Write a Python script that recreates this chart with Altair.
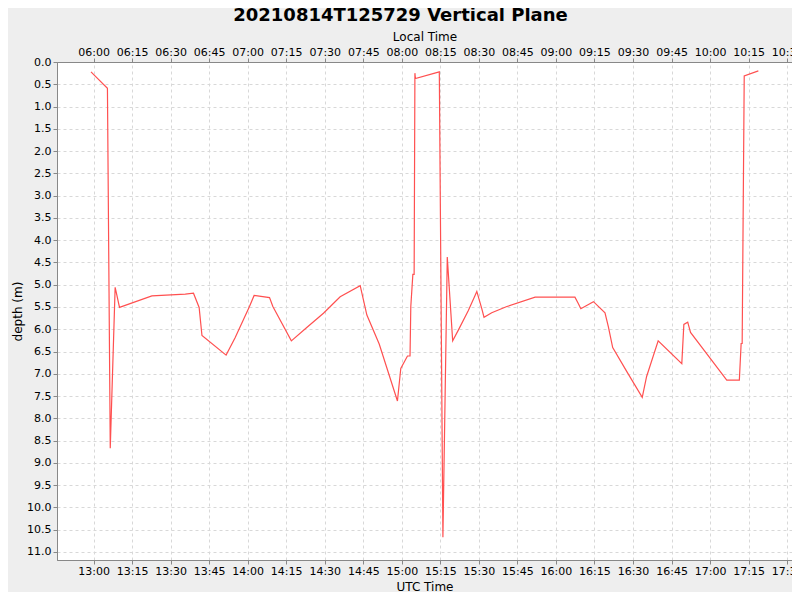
import altair as alt
import pandas as pd

TITLE = "20210814T125729 Vertical Plane"

# UTC timestamps (HH:MM:SS) and depths (m)
utc_times = [
    "12:59:00", "13:05:24", "13:06:30", "13:08:24", "13:08:54", "13:10:06",
    "13:22:42", "13:35:42", "13:38:54", "13:41:06", "13:42:12", "13:51:36",
    "13:55:06", "14:00:42", "14:02:30", "14:08:30", "14:09:48", "14:17:00",
    "14:23:00", "14:29:30", "14:36:00", "14:43:48", "14:46:24", "14:51:12",
    "14:58:18", "14:59:36", "15:02:12", "15:03:12", "15:03:30", "15:04:18",
    "15:04:48", "15:05:06", "15:05:18", "15:14:36", "15:16:00", "15:17:42",
    "15:19:48", "15:22:00", "15:25:54", "15:28:18", "15:29:12", "15:31:06",
    "15:32:00", "15:35:00", "15:40:54", "15:51:54", "16:07:24", "16:08:42",
    "16:09:42", "16:14:36", "16:19:06", "16:20:24", "16:22:06", "16:27:36",
    "16:33:36", "16:35:18", "16:39:48", "16:49:00", "16:49:48", "16:51:18",
    "16:52:24", "17:00:00", "17:06:30", "17:11:24", "17:12:06", "17:12:30",
    "17:13:18", "17:18:48",
]
depths = [
    0.22, 0.59, 8.67, 5.06, 5.19, 5.51,
    5.25, 5.21, 5.19, 5.51, 6.14, 6.58,
    6.19, 5.49, 5.24, 5.29, 5.49, 6.26,
    5.96, 5.64, 5.27, 5.02, 5.68, 6.33,
    7.61, 6.88, 6.60, 6.60, 5.49, 4.77,
    4.77, 0.25, 0.37, 0.22, 10.67, 4.38,
    6.26, 6.02, 5.58, 5.27, 5.15, 5.53,
    5.73, 5.63, 5.49, 5.28, 5.28, 5.42,
    5.54, 5.38, 5.63, 5.94, 6.41, 6.95,
    7.53, 7.06, 6.26, 6.77, 5.89, 5.84,
    6.07, 6.65, 7.14, 7.14, 6.32, 6.32,
    0.31, 0.20,
]
LOCAL_OFFSET_HOURS = -7

utc_ticks = ["13:00", "13:15", "13:30", "13:45", "14:00", "14:15", "14:30", "14:45",
             "15:00", "15:15", "15:30", "15:45", "16:00", "16:15", "16:30", "16:45",
             "17:00", "17:15", "17:30"]
depth_ticks = [i * 0.5 for i in range(23)]
utc_domain = ["12:45:46", "17:31:54"]
depth_domain = [0, 11.18]


def to_min(s):
    p = [int(v) for v in s.split(":")]
    while len(p) < 3:
        p.append(0)
    return p[0] * 60 + p[1] + p[2] / 60.0


utc_min = [to_min(s) for s in utc_times]
local_min = [m + LOCAL_OFFSET_HOURS * 60 for m in utc_min]
df = pd.DataFrame({"utc": utc_min, "local": local_min, "depth": depths})

utc_tick_vals = [to_min(s) for s in utc_ticks]
local_tick_vals = [v + LOCAL_OFFSET_HOURS * 60 for v in utc_tick_vals]
utc_dom = [to_min(s) for s in utc_domain]
local_dom = [v + LOCAL_OFFSET_HOURS * 60 for v in utc_dom]

LBL = "utcFormat(datum.value * 60000, '%H:%M')"
FONT = "DejaVu Sans"

y_axis = alt.Axis(values=depth_ticks, format=".1f", title="depth (m)", tickCount=23,
                  titlePadding=2, labelPadding=2, labelOverlap=False, grid=True)
y_scale = alt.Scale(domain=depth_domain, reverse=True, nice=False, zero=False)

bottom = alt.Chart(df).mark_line(color="#ff5050", strokeWidth=1.2, clip=True).encode(
    x=alt.X("utc:Q",
            scale=alt.Scale(domain=utc_dom, nice=False, zero=False),
            axis=alt.Axis(values=utc_tick_vals, labelExpr=LBL, title="UTC Time",
                          orient="bottom", grid=True, titlePadding=5, labelOverlap=False)),
    y=alt.Y("depth:Q", scale=y_scale, axis=y_axis),
)

top = alt.Chart(df).mark_line(opacity=0).encode(
    x=alt.X("local:Q",
            scale=alt.Scale(domain=local_dom, nice=False, zero=False),
            axis=alt.Axis(values=local_tick_vals, labelExpr=LBL, title="Local Time",
                          orient="top", grid=False, titlePadding=3, labelOverlap=False)),
    y=alt.Y("depth:Q", scale=y_scale, axis=y_axis),
)

chart = alt.layer(bottom, top).resolve_scale(x="independent").properties(
    width=735,
    height=498,
    autosize=alt.AutoSizeParams(type="none"),
    padding={"left": 49, "top": 54, "right": 0, "bottom": 32},
    background="#eeeeee",
    title=alt.TitleParams(text=TITLE, font=FONT, fontSize=18, fontWeight="bold",
                          color="#000000", anchor="middle", dx=-24, offset=5),
).configure_view(
    fill="white", stroke="#888888", strokeWidth=1,
).configure_axis(
    domainColor="#888888", tickColor="#888888", tickSize=4,
    labelFont=FONT, labelFontSize=11, labelColor="#000000", labelPadding=1,
    titleFont=FONT, titleFontSize=12, titleFontWeight="normal", titleColor="#000000",
    gridColor="#d8d8d8", gridDash=[3, 3], gridWidth=1,
)

chart.save("out.html", embed_options={"renderer": "svg", "actions": False})
